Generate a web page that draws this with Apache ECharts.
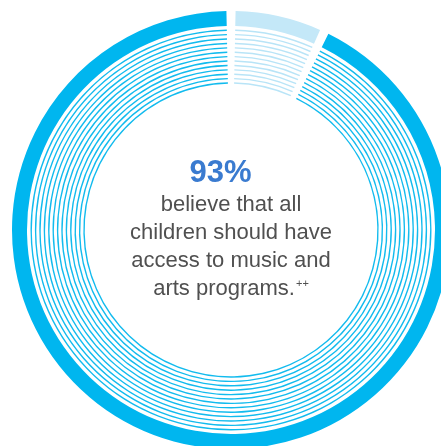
<!DOCTYPE html>
<html>
<head>
<meta charset="utf-8">
<script src="https://cdn.jsdelivr.net/npm/echarts@6/dist/echarts.min.js"></script>
<style>
  html, body { margin: 0; padding: 0; background: #ffffff; }
  #chart { width: 441px; height: 446px; }
</style>
</head>
<body>
<div id="chart"></div>
<script>
// Survey result: share of respondents by answer
const categories = ['Other', 'All children should have access'];
const shares = [7, 93];
const captionLines = ['believe that all', 'children should have', 'access to music and', 'arts programs.'];
const footnoteMark = '++';

const CX = 231, CY = 230;
const DARK = '#00b6ef';
const LIGHT = '#c4e8f8';
const THIN_DARK = '#12bbee';
const THIN_LIGHT = '#b8e4f7';

function ringSeries(inner, outer, dark, light) {
  return {
    type: 'pie',
    center: [CX, CY],
    radius: [inner, outer],
    startAngle: 90,
    clockwise: true,
    padAngle: 2.4,
    silent: true,
    animation: false,
    label: { show: false },
    labelLine: { show: false },
    data: categories.map((name, i) => ({
      name,
      value: shares[i],
      itemStyle: { color: i === 0 ? light : dark }
    }))
  };
}

const series = [ringSeries(204, 219, DARK, LIGHT)];
// Thin concentric rings inside the main band
const ringCount = 13;
for (let k = 0; k < ringCount; k++) {
  const r = 147 + k * 4.4;
  series.push(ringSeries(r - 0.7, r + 0.7, THIN_DARK, THIN_LIGHT));
}

const textFont = '"Liberation Sans", Arial, Helvetica, sans-serif';
const graphics = [{
  type: 'text',
  left: 'center',
  top: 158,
  style: {
    text: shares[1] + '%',
    fill: '#3a7bd0',
    font: 'bold 31px ' + textFont,
    align: 'center'
  }
}];
captionLines.forEach((line, i) => {
  const isLast = i === captionLines.length - 1;
  graphics.push({
    type: 'text',
    x: CX,
    y: 194 + i * 28,
    style: {
      text: isLast ? '{m|' + line + '}{s|' + footnoteMark + '}' : line,
      fill: '#505050',
      font: '22px ' + textFont,
      align: 'center',
      rich: {
        m: { fontSize: 22, fontFamily: textFont, color: '#505050', verticalAlign: 'bottom' },
        s: { fontSize: 11, fontFamily: textFont, color: '#505050', verticalAlign: 'top', padding: [0, 0, 8, 1] }
      }
    }
  });
});

const chart = echarts.init(document.getElementById('chart'), null, { renderer: 'canvas' });
chart.setOption({
  backgroundColor: '#ffffff',
  animation: false,
  series,
  graphic: graphics
});
</script>
</body>
</html>
